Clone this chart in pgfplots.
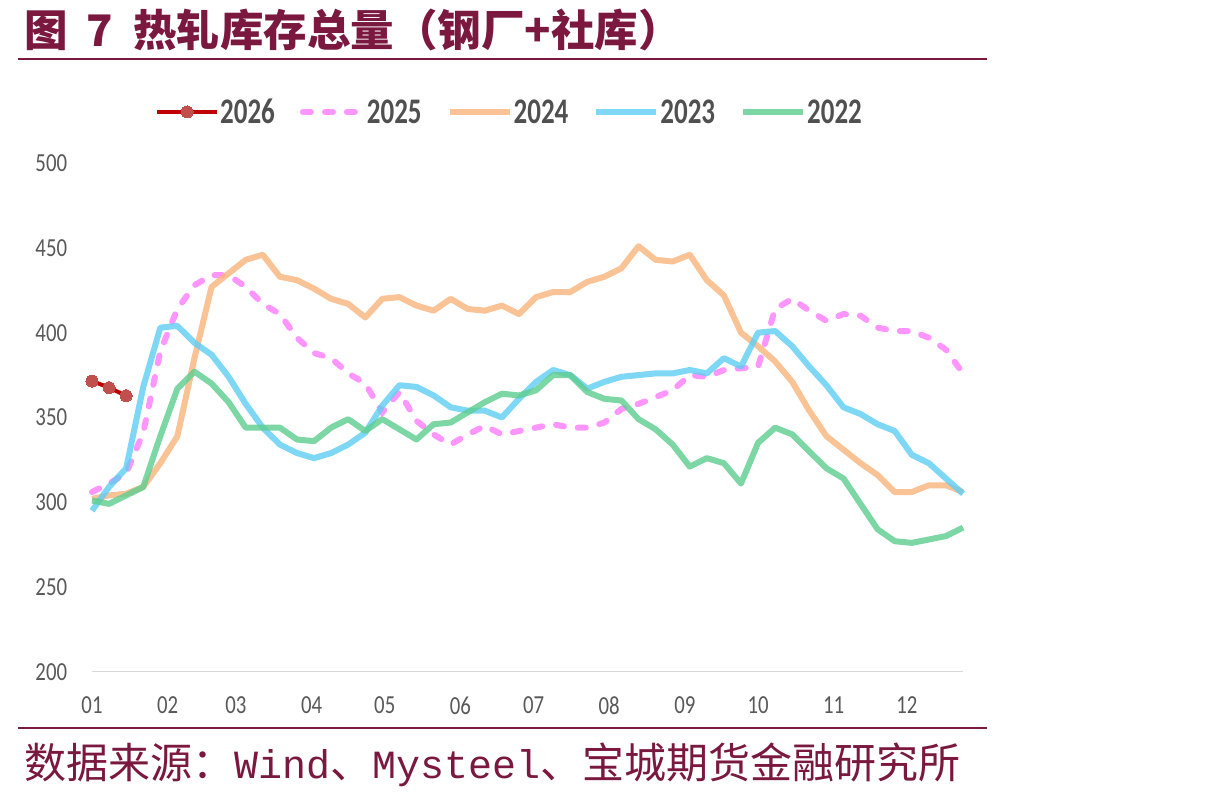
\documentclass[border=0pt]{standalone}
\usepackage{pgfplots}
\pgfplotsset{compat=1.18}
\usepackage{fontspec}
\newfontfamily\cjk{Noto Sans CJK SC}
\newfontfamily\monoft{Liberation Mono}
\newfontfamily\tickft{Carlito}[FakeStretch=0.8]
\newfontfamily\legft{Carlito}[FakeStretch=0.75]

\definecolor{maroon}{RGB}{122,24,64}
\definecolor{tickgray}{RGB}{89,89,89}
\definecolor{leggray}{RGB}{80,80,80}
\definecolor{axisgray}{RGB}{217,217,217}
\definecolor{c26}{RGB}{192,0,0}
\definecolor{c26m}{RGB}{192,80,77}
\definecolor{c25}{RGB}{255,124,255}
\definecolor{c24}{RGB}{249,180,124}
\definecolor{c23}{RGB}{93,205,243}
\definecolor{c22}{RGB}{93,205,143}

% weekly hot-rolled coil inventory (steel mills + social), 10k t
\pgfplotstableread{
w  v
0  371.5
1  367.6
2  362.8
}\tblA
\pgfplotstableread{
w  v
0  306
1  311
2  317
3  341
4  389
5  414
6  428
7  434
8  434
9  427
10 417
11 411
12 397
13 388
14 385
15 376
16 370
17 353
18 365
19 348
20 340
21 334
22 340
23 345
24 340
25 342
26 344
27 346
28 344
29 344
30 347
31 355
32 358
33 362
34 366
35 375
36 374
37 378
38 379
39 380
40 414
41 420
42 413
43 407
44 411
45 410
46 403
47 401
48 401
49 397
50 390
51 376
}\tblB
\pgfplotstableread{
w  v
0  302
1  304
2  305
3  309
4  323
5  339
6  385
7  427
8  435
9  443
10 446
11 433
12 431
13 426
14 420
15 417
16 409
17 420
18 421
19 416
20 413
21 420
22 414
23 413
24 416
25 411
26 421
27 424
28 424
29 430
30 433
31 438
32 451
33 443
34 442
35 446
36 431
37 422
38 400
39 392
40 383
41 371
42 354
43 339
44 331
45 323
46 316
47 306
48 306
49 310
50 310
51 306
}\tblC
\pgfplotstableread{
w  v
0  295
1  309
2  320
3  368
4  403
5  404
6  394
7  387
8  374
9  358
10 344
11 334
12 329
13 326
14 329
15 334
16 341
17 357
18 369
19 368
20 363
21 356
22 354
23 354
24 350
25 361
26 371
27 378
28 375
29 367
30 371
31 374
32 375
33 376
34 376
35 378
36 376
37 385
38 380
39 400
40 401
41 392
42 380
43 369
44 356
45 352
46 346
47 342
48 328
49 323
50 314
51 305
}\tblD
\pgfplotstableread{
w  v
0  301
1  299
2  304
3  309
4  339
5  367
6  377
7  370
8  359
9  344
10 344
11 344
12 337
13 336
14 344
15 349
16 342
17 349
18 343
19 337
20 346
21 347
22 353
23 359
24 364
25 363
26 366
27 375
28 375
29 365
30 361
31 360
32 349
33 343
34 334
35 321
36 326
37 323
38 311
39 335
40 344
41 340
42 330
43 320
44 314
45 299
46 284
47 277
48 276
49 278
50 280
51 285
}\tblE

\begin{document}
\begin{tikzpicture}
\useasboundingbox (0pt,0pt) rectangle (1217pt,-799pt);
\fill[white] (0pt,0pt) rectangle (1217pt,-799pt);

% title and rules
\node[anchor=west, inner sep=0pt, text=maroon,
      font=\cjk\bfseries\fontsize{43.5}{43.5}\selectfont] at (24pt,-30pt)
  {图\hspace{19pt}7\hspace{20pt}热轧库存总量（钢厂+社库）};
\draw[maroon, line width=2.5pt] (18pt,-59pt) -- (987pt,-59pt);
\draw[maroon, line width=2.5pt] (18pt,-728pt) -- (987pt,-728pt);
\node[anchor=west, inner sep=0pt, text=maroon,
      font=\cjk\fontsize{42}{42}\selectfont] at (24pt,-765pt)
  {数据来源：{\monoft\fontsize{40}{40}\selectfont Wind}、{\monoft\fontsize{40}{40}\selectfont Mysteel}、宝城期货金融研究所};

\begin{axis}[
  at={(92pt,-671.7pt)}, anchor=south west,
  scale only axis, width=871pt, height=508.5pt,
  xmin=0, xmax=51, ymin=200, ymax=500,
  clip=false,
  axis x line*=bottom, axis y line*=left,
  x axis line style={draw=axisgray, line width=1.5pt, -},
  y axis line style={draw=none, -},
  major tick length=0pt,
  ytick={200,250,...,500},
  xtick={0,4.4286,8.4286,12.8571,17.1429,21.5714,25.8571,30.2857,34.7143,39,43.4286,47.7143},
  xticklabels={01,02,03,04,05,06,07,08,09,10,11,12},
  /pgf/number format/assume math mode=true,
  tick label style={font=\tickft\fontsize{26}{26}\selectfont, text=tickgray, inner sep=0pt},
  yticklabel style={anchor=east, xshift=-24.7pt},
  xticklabel style={anchor=north, yshift=-25pt},
  legend columns=5,
  legend style={draw=none, fill=none, at={(0.0723,1.1007)}, anchor=west,
    inner sep=0pt, nodes={inner xsep=0pt},
    font=\legft\bfseries\fontsize{36}{36}\selectfont, text=leggray,
    /tikz/every odd column/.append style={column sep=1pt},
    /tikz/every even column/.append style={column sep=25pt}},
  legend cell align=left,
  legend image code/.code={\draw[#1] plot coordinates {(0pt,0pt) (30pt,0pt) (60pt,0pt)};},
]
\addplot[c26, line width=4pt, mark=*, mark size=6pt,
  mark options={fill=c26m, draw=c26m, line width=0pt},
  legend image code/.code={\draw[mark repeat=2, mark phase=2, ##1] plot coordinates {(0pt,0pt) (30pt,0pt) (60pt,0pt)};}]
  table[x=w, y=v] {\tblA};
\addlegendentry{2026}
\addplot[c25, line width=6pt, draw opacity=0.8, line cap=round, dash pattern=on 8pt off 14pt]
  table[x=w, y=v] {\tblB};
\addlegendentry{2025}
\addplot[c24, line width=6pt, draw opacity=0.8, line join=round]
  table[x=w, y=v] {\tblC};
\addlegendentry{2024}
\addplot[c23, line width=6pt, draw opacity=0.8, line join=round]
  table[x=w, y=v] {\tblD};
\addlegendentry{2023}
\addplot[c22, line width=6pt, draw opacity=0.8, line join=round]
  table[x=w, y=v] {\tblE};
\addlegendentry{2022}
\end{axis}
\end{tikzpicture}
\end{document}
